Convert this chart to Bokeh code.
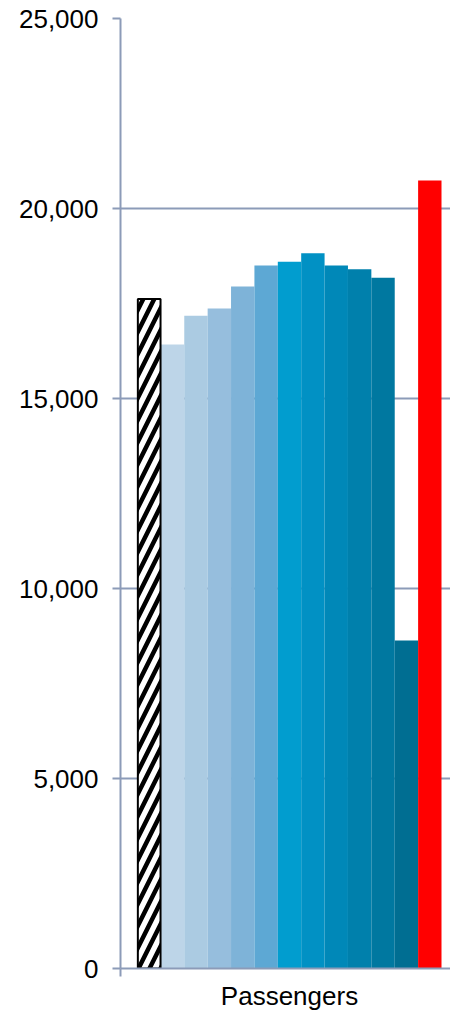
from bokeh.plotting import figure
from bokeh.models import ColumnDataSource, FixedTicker, NumeralTickFormatter, Range1d
from bokeh.embed import file_html
from bokeh.resources import INLINE

# ---- data ----
periods = ["Base", "P1", "P2", "P3", "P4", "P5", "P6", "P7", "P8", "P9", "P10", "P11", "Target"]
passengers = [17620, 16420, 17180, 17370, 17950, 18500, 18600, 18820, 18500, 18400, 18180, 8630, 20740]
colors = ["#FFFFFF", "#BDD5E8", "#ABCBE2", "#96BEDD", "#7EB3D8", "#5DA8D4",
          "#019DCF", "#0191C4", "#0088B8", "#0080AC", "#0078A0", "#006E92", "#FF0000"]
y_ticks = [0, 5000, 10000, 15000, 20000, 25000]
category_label = "Passengers"

idx = list(range(len(periods)))
axis_col = "#8C9BB8"
font = "Liberation Sans"

unit_px = 304 / 13.0
frame_w = 330
x_start = -0.5 - 17 / unit_px
x_end = x_start + frame_w / unit_px

p = figure(width=450, height=1014, output_backend="svg", toolbar_location=None,
           x_range=Range1d(x_start, x_end), y_range=Range1d(0, 25000),
           min_border_left=120, min_border_right=0, min_border_top=18, min_border_bottom=46)
p.outline_line_color = None
p.background_fill_color = "white"

src_plain = ColumnDataSource(dict(x=idx[1:], top=passengers[1:], color=colors[1:]))
p.vbar(x="x", top="top", width=1.0, bottom=0, source=src_plain,
       fill_color="color", line_color=None)

src_hatch = ColumnDataSource(dict(x=idx[:1], top=passengers[:1]))
p.vbar(x="x", top="top", width=0.97, bottom=0, source=src_hatch,
       fill_color="white", line_color="black", line_width=2,
       hatch_pattern="/", hatch_color="black", hatch_scale=22, hatch_weight=4.5)

# y axis
yax = p.yaxis[0]
yax.ticker = FixedTicker(ticks=y_ticks)
yax.formatter = NumeralTickFormatter(format="0,0")
yax.axis_line_color = axis_col
yax.axis_line_width = 2
yax.major_tick_line_color = axis_col
yax.major_tick_line_width = 2
yax.major_tick_out = 8
yax.major_tick_in = 0
yax.minor_tick_line_color = None
yax.major_label_text_font = font
yax.major_label_text_font_size = "26px"
yax.major_label_text_color = "black"
yax.major_label_standoff = 14

# x axis
xax = p.xaxis[0]
xax.ticker = FixedTicker(ticks=[6], minor_ticks=[x_start + 0.001])
xax.major_label_overrides = {6: category_label}
xax.axis_line_color = axis_col
xax.axis_line_width = 2
xax.major_tick_line_color = None
xax.minor_tick_line_color = axis_col
xax.minor_tick_line_width = 2
xax.minor_tick_out = 8
xax.minor_tick_in = 0
xax.major_label_text_font = font
xax.major_label_text_font_size = "26px"
xax.major_label_text_color = "black"
xax.major_label_standoff = 4

p.xgrid.grid_line_color = None
p.ygrid.ticker = FixedTicker(ticks=y_ticks)
p.ygrid.grid_line_color = axis_col
p.ygrid.grid_line_width = 2

open("out.html", "w").write(file_html(p, INLINE))
